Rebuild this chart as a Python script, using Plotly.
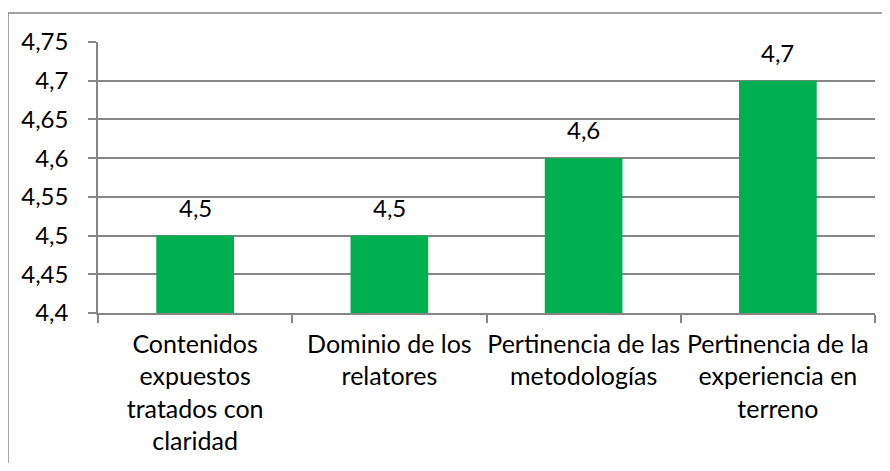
import plotly.graph_objects as go

categories = ["Contenidos<br>expuestos<br>tratados con<br>claridad",
              "Dominio de los<br>relatores",
              "Pertinencia de las<br>metodologías",
              "Pertinencia de la<br>experiencia en<br>terreno"]
values = [4.5, 4.5, 4.6, 4.7]
value_labels = ["4,5", "4,5", "4,6", "4,7"]
y_tickvals = [4.4, 4.45, 4.5, 4.55, 4.6, 4.65, 4.7, 4.75]
y_ticktext = ["4,4", "4,45", "4,5", "4,55", "4,6", "4,65", "4,7", "4,75"]

FONT = "Lato, Calibri, Carlito, sans-serif"
GRAY = "#868686"

# browser body margin is 8px: figure is placed at (8, 8)
W, H = 874, 455
L, T = 90, 34
R = W - (875 - 8)
B = H - (313 - 8)
pw = W - L - R
ph = H - T - B

fig = go.Figure()
fig.add_trace(go.Bar(
    x=categories, y=values,
    marker=dict(color="#00B050", line=dict(width=0)),
    width=0.4,
))
for c, v, t in zip(categories, values, value_labels):
    fig.add_annotation(x=c, y=v, text=t, showarrow=False, yanchor="bottom",
                       yshift=12, font=dict(family=FONT, size=24, color="#000000"))

bx0 = (8 - 98) / pw
bx1 = (900 - 98) / pw
by0 = -(500 - 313) / ph
by1 = (313 - 13) / ph
fig.update_layout(
    width=W, height=H,
    margin=dict(l=L, r=R, t=T, b=B, autoexpand=False),
    paper_bgcolor="white", plot_bgcolor="white",
    showlegend=False,
    font=dict(family=FONT, size=24, color="#000000"),
    separators=",.",
    shapes=[
        dict(type="line", xref="paper", yref="paper", x0=bx0, x1=bx0, y0=by0, y1=by1,
             line=dict(color=GRAY, width=1.5), layer="below"),
        dict(type="line", xref="paper", yref="paper", x0=bx0, x1=bx1, y0=by1, y1=by1,
             line=dict(color=GRAY, width=1.5), layer="below"),
    ],
)
fig.update_xaxes(
    showline=True, linecolor=GRAY, linewidth=1.5,
    ticks="outside", ticklen=8, tickcolor=GRAY, tickwidth=1.5,
    tickson="boundaries", ticklabelstandoff=8, tickangle=0, automargin=False,
    tickfont=dict(family=FONT, size=25, color="#000000"),
    showgrid=False,
)
fig.update_yaxes(
    range=[4.4, 4.75],
    tickvals=y_tickvals, ticktext=y_ticktext,
    showline=True, linecolor=GRAY, linewidth=1.5,
    ticks="outside", ticklen=8, tickcolor=GRAY, tickwidth=1.5,
    ticklabelstandoff=15, automargin=False,
    showgrid=True, gridcolor=GRAY, gridwidth=1.5,
    zeroline=False,
    tickfont=dict(family=FONT, size=24, color="#000000"),
)
fig.write_html("out.html")
